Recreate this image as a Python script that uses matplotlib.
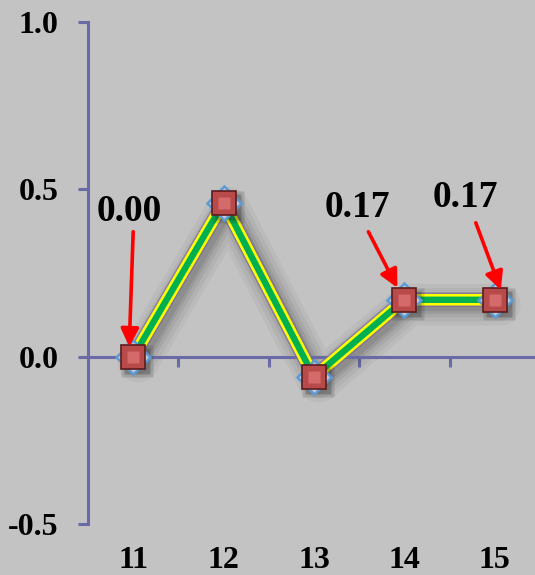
import numpy as np
import matplotlib.pyplot as plt
import matplotlib.transforms as mtransforms

# ---- data ----
categories = ['11', '12', '13', '14', '15']
values = [0.00, 0.46, -0.06, 0.17, 0.17]
yticks = [-0.5, 0.0, 0.5, 1.0]
yticklabels = ['-0.5', '0.0', '0.5', '1.0']
labelled = [0, 3, 4]          # points with a value label
label_texts = ['0.00', '0.17', '0.17']

BG = '#c3c3c3'
AXIS = '#6a6aa6'
FONT = 'Liberation Serif'

fig = plt.figure(figsize=(5.35, 5.75), dpi=100, facecolor=BG)
ax = fig.add_axes([88 / 535, 51 / 575, 452 / 535, 502 / 575])
ax.set_facecolor(BG)

x = np.arange(len(categories))
ax.set_xlim(-0.5, len(categories) - 0.5)
ax.set_ylim(-0.5, 1.0)

# ---- spines / ticks ----
for s in ['top', 'right']:
    ax.spines[s].set_visible(False)
ax.spines['left'].set_color(AXIS)
ax.spines['left'].set_linewidth(2.2)
ax.spines['bottom'].set_position(('data', 0))
ax.spines['bottom'].set_color(AXIS)
ax.spines['bottom'].set_linewidth(2.2)

ax.set_yticks(yticks)
ax.set_yticklabels(yticklabels, fontfamily=FONT, fontweight='bold', fontsize=23)
ax.tick_params(axis='y', direction='out', length=7, width=2.2, color=AXIS, pad=14)
ax.set_xticks(x[:-1] + 0.5)
ax.set_xticklabels([])
ax.tick_params(axis='x', direction='out', length=7, width=2.2, color=AXIS)

# category labels at the bottom of the plot area
for xi, lab in zip(x, categories):
    ax.text(xi, -0.072, lab, transform=ax.get_xaxis_transform(), ha='center', va='center',
            fontfamily=FONT, fontweight='bold', fontsize=23, clip_on=False)

# ---- soft shadow behind the line ----
for w, a in [(30, 0.05), (24, 0.06), (18, 0.08), (13, 0.10), (9, 0.12)]:
    tr = mtransforms.offset_copy(ax.transData, fig=fig, x=5, y=-5, units='dots')
    ax.plot(x, values, color='#303030', lw=w, alpha=a, transform=tr,
            solid_joinstyle='round', solid_capstyle='round', zorder=2)
ax.plot(x, values, color='#7a6a9a', lw=10.5, alpha=0.7, solid_joinstyle='miter', zorder=3)

# ---- the line: yellow border, green core ----
ax.plot(x, values, color='#ffff00', lw=8.3, solid_joinstyle='miter', zorder=4)
ax.plot(x, values, color='#00b050', lw=4.6, solid_joinstyle='miter', zorder=5)

# ---- markers ----
for ms, a in [(23, 0.15), (19, 0.25)]:
    trm = mtransforms.offset_copy(ax.transData, fig=fig, x=4, y=-4, units='dots')
    ax.plot(x, values, 's', ms=ms, color='#202020', alpha=a, mec='none',
            transform=trm, zorder=6)
ax.plot(x, values, 'D', ms=17, mfc='#c9c9d2', mec='#5b9bd5', mew=1.8, zorder=7)
ax.plot(x, values, 's', ms=17, mfc='#b84a4a', mec='#5c1c1c', mew=1.2, zorder=8)
ax.plot(x, values, 's', ms=8.5, mfc='#d46a6a', mec='none', zorder=9)

# ---- value labels with red arrows (offsets in pixels) ----
text_off = [(-4, 145), (-47, 92), (-29, 102)]
arrow_start = [(0, 125), (-36, 68), (-19, 77)]
arrow_tip = [(-4, 10), (-7, 12), (6, 10)]
for i, txt, to, a0, a1 in zip(labelled, label_texts, text_off, arrow_start, arrow_tip):
    ax.annotate(txt, (x[i], values[i]), xytext=to, textcoords='offset pixels',
                ha='center', va='center', fontfamily=FONT, fontweight='bold',
                fontsize=27, zorder=10)
    tr0 = mtransforms.offset_copy(ax.transData, fig=fig, x=a0[0], y=a0[1], units='dots')
    tr1 = mtransforms.offset_copy(ax.transData, fig=fig, x=a1[0], y=a1[1], units='dots')
    p0 = ax.transData.inverted().transform(tr0.transform((x[i], values[i])))
    p1 = ax.transData.inverted().transform(tr1.transform((x[i], values[i])))
    ax.annotate('', xy=p1, xytext=p0,
                arrowprops=dict(arrowstyle='-|>', color='#ff0000', lw=2.6,
                                mutation_scale=27, shrinkA=0, shrinkB=0), zorder=10)

fig.savefig('out.png', dpi=100, facecolor=BG)
